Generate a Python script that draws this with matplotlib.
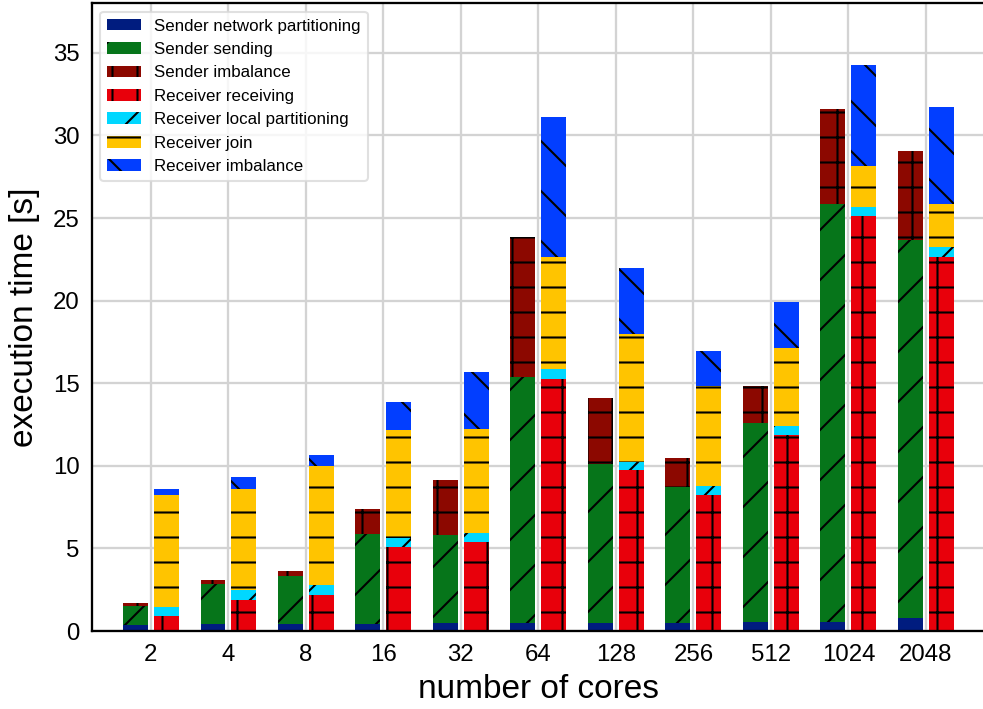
import numpy as np
import matplotlib.pyplot as plt

plt.rcParams['font.family'] = ['Liberation Sans', 'DejaVu Sans']
plt.rcParams['hatch.linewidth'] = 1.0

cores = ['2', '4', '8', '16', '32', '64', '128', '256', '512', '1024', '2048']

# seconds spent in each phase, sender side
snd_partition = [0.38, 0.44, 0.44, 0.44, 0.46, 0.46, 0.46, 0.46, 0.54, 0.54, 0.76]
snd_sending = [1.14, 2.41, 2.86, 5.45, 5.33, 14.94, 9.62, 8.26, 12.06, 25.32, 22.93]
snd_imbalance = [0.18, 0.25, 0.34, 1.52, 3.38, 8.47, 4.05, 1.73, 2.25, 5.73, 5.39]

# receiver side
rcv_receiving = [0.91, 1.86, 2.19, 5.06, 5.38, 15.28, 9.72, 8.21, 11.86, 25.15, 22.66]
rcv_partition = [0.55, 0.63, 0.60, 0.54, 0.53, 0.61, 0.54, 0.58, 0.58, 0.53, 0.56]
rcv_join = [6.80, 6.13, 7.17, 6.56, 6.29, 6.77, 7.74, 6.02, 4.72, 2.49, 2.60]
rcv_imbalance = [0.36, 0.73, 0.67, 1.73, 3.45, 8.44, 4.00, 2.17, 2.77, 6.10, 5.92]

sender = [
    (snd_partition, 'Sender network partitioning', '#001c7f', ''),
    (snd_sending, 'Sender sending', '#06751a', '/'),
    (snd_imbalance, 'Sender imbalance', '#8c0800', '+'),
]
receiver = [
    (rcv_receiving, 'Receiver receiving', '#e8000b', '+'),
    (rcv_partition, 'Receiver local partitioning', '#00d7ff', '/'),
    (rcv_join, 'Receiver join', '#ffc400', '-'),
    (rcv_imbalance, 'Receiver imbalance', '#023eff', '\\'),
]

fig = plt.figure(figsize=(6.56, 4.727), dpi=150)
ax = fig.add_axes([0.0935, 0.110, 0.9065, 0.8853])

x = np.arange(len(cores))
width = 0.32

def stack(offset, parts):
    bottom = np.zeros(len(cores))
    for vals, label, color, hatch in parts:
        ax.bar(x + offset, vals, width, bottom=bottom, color=color, label=label,
               hatch=hatch, edgecolor='black', linewidth=0, zorder=2)
        bottom += np.array(vals)

stack(-0.2, sender)
stack(0.2, receiver)

ax.set_xticks(x)
ax.set_xticklabels(cores)
ax.set_xlim(-0.76, 10.75)
ax.set_ylim(0, 38)
ax.set_yticks(range(0, 36, 5))
ax.tick_params(length=0, labelsize=11.5, pad=6)
ax.grid(color='#d3d3d3', linewidth=1.1, zorder=0)
ax.set_axisbelow(True)

for side in ['left', 'bottom', 'top']:
    ax.spines[side].set_color('black')
    ax.spines[side].set_linewidth(1.1)
ax.spines['right'].set_visible(False)

ax.set_xlabel('number of cores', fontsize=16, labelpad=4)
ax.set_ylabel('execution time [s]', fontsize=16, labelpad=6)

ax.legend(loc='upper left', fontsize=8.1, frameon=True, framealpha=0.8,
          edgecolor='#d9d9d9', fancybox=True)

fig.savefig('out.png', dpi=150, facecolor='white')
